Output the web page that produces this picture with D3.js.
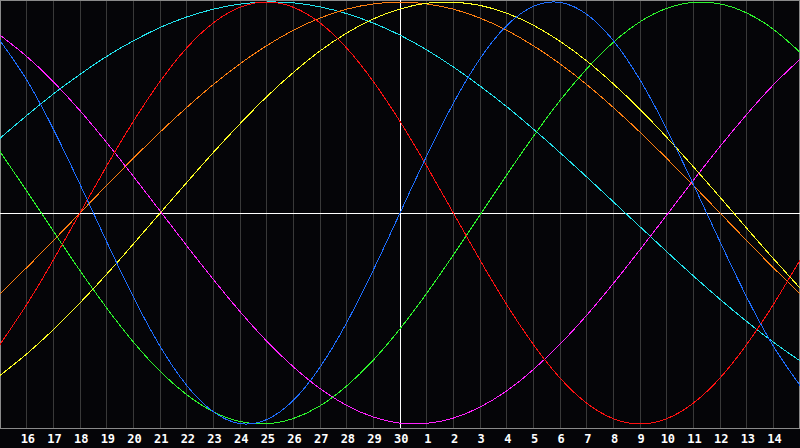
<html>
<head>
  <meta charset="utf-8">
  <title>biorhythm</title>
  <script src="https://d3js.org/d3.v7.min.js"></script>
  <style>
    body { margin:0; background:#050508; }
    svg { display:block; }
  </style>
</head>
<body>

<script>
// day labels under the grid (index 1..29), index 15 is the selected day
var dayLabels = ["16","17","18","19","20","21","22","23","24","25","26","27","28","29","30",
                 "1","2","3","4","5","6","7","8","9","10","11","12","13","14"];

// values, one per day from index 0 to 30 (-1 .. 1)
var physical = [0.817,0.631,0.398,0.136,-0.136,-0.398,-0.631,-0.817,-0.942,-0.998,-0.979,-0.888,-0.731,-0.520,-0.270,0,
                0.270,0.520,0.731,0.888,0.979,0.998,0.942,0.817,0.631,0.398,0.136,-0.136,-0.398,-0.631,-0.817];
var emotional = [-0.623,-0.434,-0.223,0,0.223,0.434,0.623,0.782,0.901,0.975,1,0.975,0.901,0.782,0.623,0.434,
                 0.223,0,-0.223,-0.434,-0.623,-0.782,-0.901,-0.975,-1,-0.975,-0.901,-0.782,-0.623,-0.434,-0.223];
var intellectual = [0.291,0.105,-0.086,-0.273,-0.450,-0.611,-0.750,-0.861,-0.942,-0.988,-0.999,-0.974,-0.914,-0.820,-0.697,-0.549,
                    -0.381,-0.199,-0.010,0.180,0.363,0.533,0.683,0.809,0.906,0.970,0.998,0.991,0.948,0.871,0.762];
var intuitive = [0.843,0.742,0.622,0.485,0.334,0.174,0.010,-0.155,-0.315,-0.467,-0.607,-0.729,-0.832,-0.912,-0.967,-0.996,
                 -0.997,-0.972,-0.920,-0.843,-0.742,-0.622,-0.485,-0.334,-0.174,-0.010,0.155,0.315,0.467,0.607,0.729];
var aesthetic = [-0.770,-0.668,-0.553,-0.426,-0.290,-0.147,-0.001,0.144,0.287,0.423,0.551,0.666,0.768,0.853,0.920,0.967,
                 0.994,0.999,0.984,0.947,0.890,0.814,0.721,0.612,0.491,0.359,0.219,0.075,-0.072,-0.216,-0.356];
var awareness = [-0.383,-0.259,-0.131,0,0.131,0.259,0.383,0.5,0.609,0.707,0.793,0.866,0.924,0.966,0.991,1,
                 0.991,0.966,0.924,0.866,0.793,0.707,0.609,0.5,0.383,0.259,0.131,0,-0.131,-0.259,-0.383];
var spiritual = [0.354,0.462,0.564,0.657,0.742,0.816,0.879,0.929,0.966,0.990,1.000,0.996,0.977,0.945,0.900,0.843,
                 0.773,0.692,0.602,0.504,0.398,0.286,0.171,0.053,-0.065,-0.183,-0.298,-0.409,-0.514,-0.612,-0.701];

var seriesNames = ["spiritual","awareness","aesthetic","intuitive","intellectual","emotional","physical"];
var seriesValues = [spiritual, awareness, aesthetic, intuitive, intellectual, emotional, physical];
var seriesColors = ["#22e4ee","#ff7f10","#ffff22","#ff22ff","#2cf52c","#ff1010","#1e6eff"];

var width = 800, height = 448;
var plotBottom = 428;

var svg = d3.select("body").append("svg")
  .attr("width", width).attr("height", height);

svg.append("rect").attr("width", width).attr("height", height).attr("fill", "#050508");

var x = d3.scaleLinear().domain([0, 30]).range([0, width]);
var y = d3.scaleLinear().domain([-1, 1]).range([424, 2]);

// day grid
svg.append("g").selectAll("line")
  .data(d3.range(1, 30))
  .enter().append("line")
  .attr("x1", function(d){ return Math.floor(x(d)) + 0.5; })
  .attr("x2", function(d){ return Math.floor(x(d)) + 0.5; })
  .attr("y1", 0).attr("y2", plotBottom)
  .attr("stroke", "#393939")
  .attr("shape-rendering", "crispEdges");

// frame
svg.append("rect")
  .attr("x", 0.5).attr("y", 0.5)
  .attr("width", width - 1).attr("height", plotBottom)
  .attr("fill", "none").attr("stroke", "#8a8a8a")
  .attr("shape-rendering", "crispEdges");

// zero line and today line
svg.append("line")
  .attr("x1", 0).attr("x2", width)
  .attr("y1", Math.floor(y(0)) + 0.5).attr("y2", Math.floor(y(0)) + 0.5)
  .attr("stroke", "#ffffff").attr("shape-rendering", "crispEdges");
svg.append("line")
  .attr("x1", Math.floor(x(15)) + 0.5).attr("x2", Math.floor(x(15)) + 0.5)
  .attr("y1", 0).attr("y2", plotBottom)
  .attr("stroke", "#ffffff").attr("shape-rendering", "crispEdges");

// curves
var line = d3.line()
  .x(function(d, i){ return x(i); })
  .y(function(d){ return y(d); })
  .curve(d3.curveNatural);

svg.append("g").selectAll("path")
  .data(seriesValues)
  .enter().append("path")
  .attr("class", function(d, i){ return seriesNames[i]; })
  .attr("d", line)
  .attr("fill", "none")
  .attr("stroke", function(d, i){ return seriesColors[i]; })
  .attr("stroke-width", 1)
  .attr("shape-rendering", "crispEdges");

// day labels
var axis = d3.axisBottom(x)
  .tickValues(d3.range(1, 30))
  .tickSize(0)
  .tickPadding(0)
  .tickFormat(function(d){ return dayLabels[d - 1]; });

var gAxis = svg.append("g")
  .attr("transform", "translate(0.7," + plotBottom + ")")
  .call(axis);
gAxis.select(".domain").remove();
gAxis.selectAll("text")
  .attr("y", 15)
  .attr("dy", 0)
  .attr("fill", "#ffffff")
  .style("font-family", "'DejaVu Sans Mono', monospace")
  .style("font-weight", "bold")
  .style("font-size", "12px");
</script>

</body>
</html>
